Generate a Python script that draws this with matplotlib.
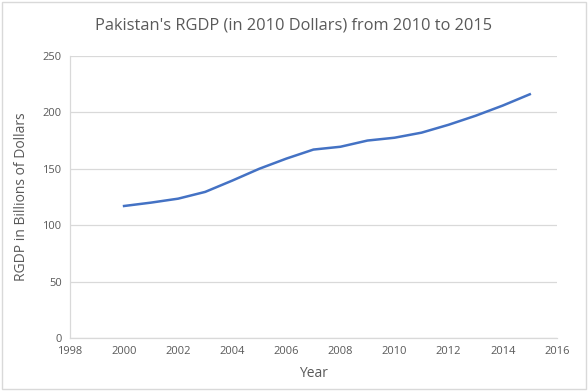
import matplotlib.pyplot as plt
from matplotlib.patches import Rectangle

years = [2000, 2001, 2002, 2003, 2004, 2005, 2006, 2007, 2008, 2009,
         2010, 2011, 2012, 2013, 2014, 2015]
rgdp = [117, 120, 123.5, 129.5, 139.5, 150, 159, 167, 169.5, 175,
        177.5, 182, 189, 197, 206, 216]
xticks = list(range(1998, 2017, 2))
yticks = [0, 50, 100, 150, 200, 250]

plt.rcParams['font.family'] = ['Open Sans', 'DejaVu Sans']

fig = plt.figure(figsize=(5.88, 3.91), dpi=100)
ax = fig.add_axes([0.119, 0.1355, 0.828, 0.7215])

ax.plot(years, rgdp, color='#4472C4', linewidth=1.8)

ax.set_xlim(1998, 2016)
ax.set_ylim(0, 250)
ax.set_xticks(xticks)
ax.set_yticks(yticks)
ax.grid(axis='y', color='#d9d9d9', linewidth=0.9)
ax.set_axisbelow(True)

for s in ['top', 'right']:
    ax.spines[s].set_visible(False)
for s in ['left', 'bottom']:
    ax.spines[s].set_color('#d9d9d9')
    ax.spines[s].set_linewidth(0.9)
ax.tick_params(length=0, labelsize=8, colors='#595959', pad=6)

ax.set_xlabel('Year', fontsize=10, color='#595959', labelpad=6)
ax.set_ylabel('RGDP in Billions of Dollars', fontsize=10, color='#595959', labelpad=10)
fig.suptitle("Pakistan's RGDP (in 2010 Dollars) from 2010 to 2015",
             fontsize=11.8, color='#595959', y=0.955)

fig.patches.append(Rectangle((0.003, 0.004), 0.994, 0.992, transform=fig.transFigure,
                             fill=False, edgecolor='#d9d9d9', linewidth=1))

fig.savefig('out.png', dpi=100)
